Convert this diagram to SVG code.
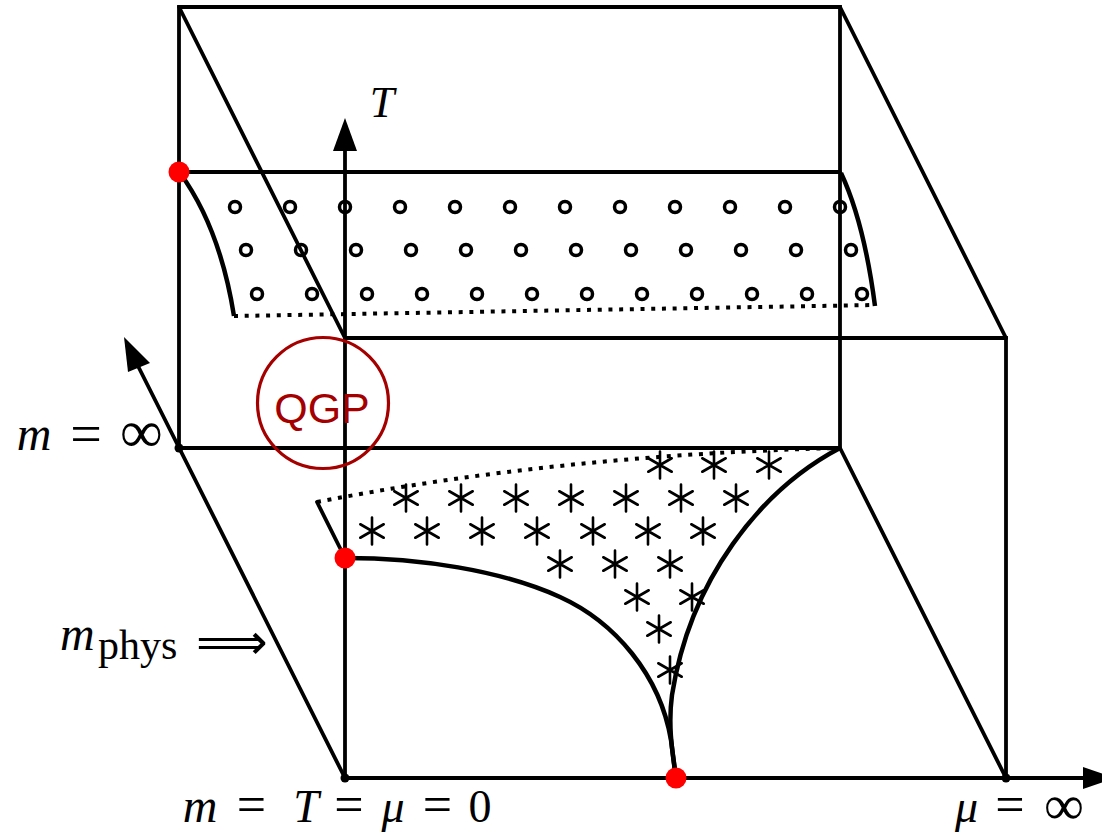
<svg xmlns="http://www.w3.org/2000/svg" xmlns:xlink="http://www.w3.org/1999/xlink" width="1102" height="835" viewBox="0 0 1102 835">
<style>
.ln{fill:none;stroke:#000;stroke-width:3.8;stroke-linecap:round}
.thick{fill:none;stroke:#000;stroke-width:4.5}
.dot{fill:none;stroke:#000;stroke-width:4;stroke-dasharray:4 6.7}
.oc{fill:none;stroke:#000;stroke-width:3.5}
.ast{fill:none;stroke:#000;stroke-width:2.6;stroke-linecap:round}
.red{fill:#ff0000}
.blk{fill:#000}
.math{font-family:"Liberation Serif","DejaVu Serif",serif;fill:#000}
.it{font-style:italic}
</style>
<defs>
<g id="ast"><path class="ast" d="M0,-13.5V13.5M-11.7,-6.75L11.7,6.75M-11.7,6.75L11.7,-6.75"/></g>
<circle id="oc" class="oc" r="5.5"/>
</defs>
<rect width="1102" height="835" fill="#fff"/>
<g id="connectors">
<path class="ln" d="M179,7H840V448H179Z"/>
<path class="ln" d="M179,7L345,338M840,7L1006,338"/>
<path class="ln" d="M345,338H1006V778"/>
<path class="ln" d="M840,448L1006,778"/>
<path class="ln" d="M345,778H1086"/>
<polygon class="blk" points="1083,767 1115,778 1083,789"/>
<path class="ln" d="M345,778V146"/>
<polygon class="blk" points="345,118 357,151 333,151"/>
<path class="ln" d="M345,778L137,364"/>
<polygon class="blk" points="124,337 150,363 128,372"/>
<path class="ln" d="M179,172H840"/>
</g>
<g id="upper-region">
<path class="thick" d="M180,173Q220,228 234,316"/>
<path class="thick" d="M841,173Q864,222 875,306"/>
<path class="dot" d="M234,316L875,305"/>
<g id="circles">
<use href="#oc" x="235" y="207"/><use href="#oc" x="290" y="207"/><use href="#oc" x="345" y="207"/><use href="#oc" x="400" y="207"/><use href="#oc" x="455" y="207"/><use href="#oc" x="510" y="207"/><use href="#oc" x="565" y="207"/><use href="#oc" x="620" y="207"/><use href="#oc" x="675" y="207"/><use href="#oc" x="730" y="207"/><use href="#oc" x="785" y="207"/><use href="#oc" x="840" y="207"/>
<use href="#oc" x="246" y="250"/><use href="#oc" x="301" y="250"/><use href="#oc" x="356" y="250"/><use href="#oc" x="411" y="250"/><use href="#oc" x="466" y="250"/><use href="#oc" x="521" y="250"/><use href="#oc" x="576" y="250"/><use href="#oc" x="631" y="250"/><use href="#oc" x="686" y="250"/><use href="#oc" x="741" y="250"/><use href="#oc" x="796" y="250"/><use href="#oc" x="851" y="250"/>
<use href="#oc" x="257" y="294"/><use href="#oc" x="312" y="294"/><use href="#oc" x="367" y="294"/><use href="#oc" x="422" y="294"/><use href="#oc" x="477" y="294"/><use href="#oc" x="532" y="294"/><use href="#oc" x="587" y="294"/><use href="#oc" x="642" y="294"/><use href="#oc" x="697" y="294"/><use href="#oc" x="752" y="294"/><use href="#oc" x="807" y="294"/><use href="#oc" x="862" y="294"/>
</g>
</g>
<g id="lower-region">
<path class="thick" d="M345,558C420,558 500,570 560,597C615,622 660,675 671,740L676,778"/>
<path class="thick" d="M840,448C760,490 690,580 672,695C668,725 672,750 676,778"/>
<path class="ln" d="M317,502L345,558"/>
<path class="dot" d="M317,502Q560,455 838,448"/>
<g id="asterisks">
<use href="#ast" x="660" y="465"/><use href="#ast" x="714" y="465"/><use href="#ast" x="769" y="465"/>
<use href="#ast" x="406" y="498"/><use href="#ast" x="461" y="498"/><use href="#ast" x="516" y="498"/><use href="#ast" x="571" y="498"/><use href="#ast" x="626" y="498"/><use href="#ast" x="681" y="498"/><use href="#ast" x="736" y="498"/>
<use href="#ast" x="372" y="531"/><use href="#ast" x="427" y="531"/><use href="#ast" x="482" y="531"/><use href="#ast" x="537" y="531"/><use href="#ast" x="593" y="531"/><use href="#ast" x="648" y="531"/><use href="#ast" x="703" y="531"/>
<use href="#ast" x="560" y="564"/><use href="#ast" x="615" y="564"/><use href="#ast" x="670" y="564"/>
<use href="#ast" x="637" y="597"/><use href="#ast" x="692" y="597"/>
<use href="#ast" x="659" y="629"/>
<use href="#ast" x="670" y="670"/>
</g>
</g>
<g id="qgp">
<circle cx="323" cy="403" r="65.5" fill="none" stroke="#a50000" stroke-width="3.2"/>
<text x="322" y="423" text-anchor="middle" font-family="Liberation Sans, Arial, sans-serif" font-size="43" fill="#a50000">QGP</text>
</g>
<g id="points">
<circle class="blk" cx="179" cy="448" r="4.5"/>
<circle class="blk" cx="345" cy="778" r="4.5"/>
<circle class="blk" cx="1006" cy="778" r="4.5"/>
<circle class="red" cx="179" cy="172" r="10.5"/>
<circle class="red" cx="345" cy="558" r="10.5"/>
<circle class="red" cx="676" cy="778" r="10.5"/>
</g>
<g id="labels">
<text id="label-T" class="math it" x="382" y="117" text-anchor="middle" font-size="44">T</text>
<text id="label-minf" class="math" y="450" text-anchor="middle" font-size="46"><tspan class="it" x="34" font-size="48">m</tspan><tspan x="86" y="453" font-size="56">=</tspan><tspan x="141.5" y="452" font-size="60">∞</tspan></text>
<text id="label-mphys" class="math" y="650" font-size="46"><tspan class="it" x="60" font-size="48">m</tspan><tspan x="98" y="659" font-size="42">phys</tspan><tspan x="196" y="659" font-family="DejaVu Sans, sans-serif" font-size="50">⟹</tspan></text>
<text id="label-origin" class="math" y="822" text-anchor="middle" font-size="46"><tspan class="it" x="200" font-size="48">m</tspan><tspan x="251.5" y="822" font-size="52">=</tspan><tspan class="it" x="306" y="822">T</tspan><tspan x="349" y="822" font-size="52">=</tspan><tspan class="it" x="393" y="822">μ</tspan><tspan x="437.5" y="822" font-size="52">=</tspan><tspan x="480" y="822">0</tspan></text>
<text id="label-muinf" class="math" y="822" text-anchor="middle" font-size="46"><tspan class="it" x="966.5">μ</tspan><tspan x="1010" y="822" font-size="52">=</tspan><tspan x="1064" y="824" font-size="56">∞</tspan></text>
</g>
</svg>
